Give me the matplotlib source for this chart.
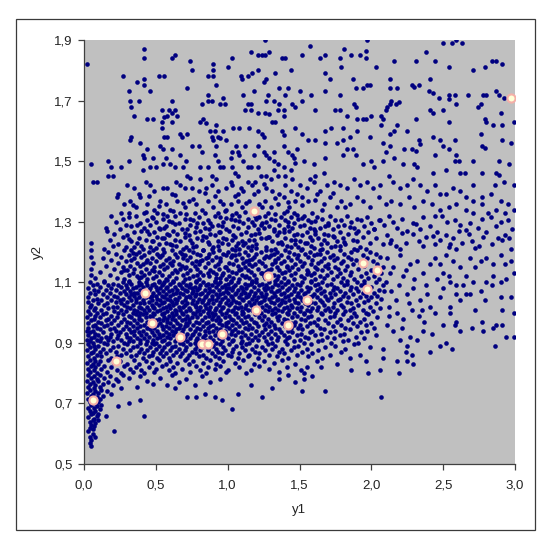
import matplotlib
matplotlib.use('Agg')
import matplotlib.pyplot as plt
from matplotlib.patches import Rectangle

plt.rcParams['font.family'] = ['Liberation Sans', 'DejaVu Sans']

# Sparse upper-left region (y1 < 1.5, y2 >= 1.33)
upper_left_points = [
    (0.02,1.82),(0.42,1.87),(0.42,1.84),(0.61,1.84),(0.63,1.85),(0.74,1.83),(0.75,1.80),(0.90,1.82),(0.90,1.80),
    (1.00,1.81),(1.03,1.84),(1.16,1.86),(1.21,1.85),(1.24,1.85),(1.26,1.85),(1.29,1.86),(1.26,1.90),(1.38,1.84),
    (1.40,1.84),(1.44,1.80),(0.27,1.78),(0.52,1.78),(0.56,1.78),(0.86,1.78),(0.90,1.78),(1.09,1.78),(1.14,1.78),
    (1.17,1.79),(1.21,1.80),(1.27,1.77),(1.25,1.76),(1.33,1.79),(0.37,1.76),(0.42,1.77),(0.42,1.75),(0.31,1.73),
    (0.46,1.73),(0.72,1.74),(0.92,1.75),(1.10,1.77),(1.18,1.73),(1.36,1.74),(1.40,1.72),(1.42,1.74),(0.86,1.72),
    (0.89,1.70),(0.86,1.70),(0.82,1.69),(0.97,1.71),(0.95,1.69),(0.98,1.69),(1.11,1.72),(1.14,1.69),(1.16,1.69),
    (1.28,1.72),(1.27,1.70),(1.32,1.70),(1.36,1.69),(1.45,1.69),(0.32,1.70),(0.38,1.70),(0.33,1.68),(0.61,1.70),
    (0.35,1.65),(0.54,1.67),(0.59,1.67),(0.58,1.65),(0.61,1.66),(0.63,1.67),(0.65,1.65),(0.56,1.645),(0.44,1.64),
    (0.48,1.64),(0.54,1.63),(0.61,1.63),(0.81,1.63),(0.83,1.64),(0.85,1.625),(0.92,1.62),(1.12,1.67),(1.16,1.67),
    (1.21,1.66),(1.26,1.66),(1.29,1.655),(1.35,1.67),(1.39,1.67),(1.47,1.68),(1.31,1.63),(1.33,1.63),(1.39,1.65),
    (1.04,1.61),(1.08,1.61),(1.15,1.61),(1.21,1.60),(1.24,1.59),(1.25,1.58),(1.38,1.60),(1.39,1.585),(1.47,1.61),
    (0.54,1.61),(0.67,1.59),(0.68,1.58),(0.72,1.59),(0.56,1.58),(0.58,1.58),(0.33,1.58),(0.32,1.57),(0.88,1.60),
    (0.91,1.60),(0.97,1.60),(0.89,1.58),(0.90,1.57),(0.93,1.58),(0.95,1.575),(0.99,1.57),(0.39,1.56),(0.44,1.54),
    (0.53,1.55),(0.55,1.54),(0.61,1.54),(0.75,1.55),(0.80,1.55),(0.82,1.53),(0.92,1.55),(1.06,1.55),(1.03,1.53),
    (1.07,1.53),(1.12,1.55),(1.21,1.55),(1.25,1.53),(1.32,1.53),(1.27,1.52),(1.39,1.55),(1.42,1.53),(1.45,1.52),
    (1.48,1.54),(0.41,1.52),(0.42,1.51),(0.48,1.51),(0.57,1.51),(0.60,1.49),(0.67,1.52),(0.71,1.50),(0.55,1.49),
    (0.50,1.48),(0.46,1.48),(0.31,1.50),(0.26,1.48),(0.17,1.50),(0.19,1.48),(0.05,1.49),(0.17,1.45),(0.20,1.45),
    (0.06,1.43),(0.09,1.43),(0.41,1.47),(0.63,1.48),(0.69,1.48),(0.72,1.45),(0.74,1.445),(0.81,1.48),(0.86,1.48),
    (0.91,1.52),(0.93,1.50),(0.95,1.48),(0.97,1.48),(1.02,1.51),(1.08,1.52),(1.11,1.50),(1.14,1.48),(1.16,1.48),
    (1.21,1.48),(1.18,1.52),(1.29,1.51),(1.32,1.50),(1.35,1.49),(1.39,1.48),(1.46,1.51),(1.47,1.495),(1.03,1.48),
    (1.05,1.46),(1.07,1.45),(0.89,1.45),(0.92,1.44),(0.81,1.44),(1.23,1.45),(1.27,1.45),(1.32,1.47),(1.35,1.45),
    (1.44,1.47),(1.45,1.44),(1.40,1.45),
    (0.30,1.42),(0.35,1.41),(0.38,1.39),(0.24,1.39),(0.46,1.42),(0.49,1.40),(0.55,1.41),(0.58,1.41),(0.61,1.39),
    (0.67,1.42),(0.70,1.41),(0.75,1.41),(0.80,1.40),(0.85,1.41),(0.89,1.42),(0.93,1.40),(0.99,1.41),(1.03,1.42),
    (1.07,1.39),(1.11,1.40),(1.17,1.42),(1.21,1.40),(1.27,1.41),(1.31,1.40),(1.36,1.39),(1.40,1.42),(1.44,1.40),
    (1.48,1.39),(0.43,1.43),(0.64,1.43),(1.14,1.43),(1.19,1.43),(1.30,1.44),(1.02,1.43),
    (0.23,1.38),(0.28,1.36),(0.32,1.37),(0.36,1.35),(0.39,1.38),(0.44,1.36),(0.49,1.34),(0.53,1.37),(0.57,1.36),
    (0.60,1.34),(0.65,1.37),(0.70,1.35),(0.73,1.37),(0.78,1.36),(0.82,1.34),(0.86,1.37),(0.90,1.35),(0.95,1.37),
    (0.99,1.34),(1.02,1.36),(1.07,1.37),(1.10,1.35),(1.15,1.37),(1.22,1.36),(1.26,1.37),(1.30,1.35),(1.35,1.36),
    (1.39,1.38),(1.43,1.35),(1.47,1.37),(0.26,1.33),(0.31,1.33),(0.42,1.33),(0.51,1.33),(0.67,1.33),(0.77,1.33),
    (0.93,1.33),(1.06,1.33),(1.28,1.33),(1.39,1.33),(1.46,1.33),
]

# Sparse upper-right region (y1 >= 1.5, y2 >= 1.33)
upper_right_points = [
    (1.57,1.88),(1.52,1.85),(1.64,1.84),(1.68,1.85),(1.68,1.79),(1.71,1.77),(1.78,1.84),(1.79,1.81),(1.81,1.87),
    (1.86,1.85),(1.92,1.85),(1.96,1.84),(1.96,1.865),(1.97,1.90),(2.03,1.81),(2.16,1.83),(2.31,1.83),(2.38,1.86),
    (2.44,1.83),(2.50,1.89),(2.56,1.89),(2.59,1.90),(2.63,1.89),(2.54,1.81),(2.71,1.80),(2.79,1.81),(2.84,1.83),
    (2.87,1.83),(2.91,1.82),(1.50,1.73),(1.58,1.72),(1.68,1.73),(1.78,1.72),(1.87,1.77),(1.89,1.74),(1.94,1.74),
    (1.97,1.75),(1.99,1.75),(2.13,1.77),(2.13,1.74),(2.18,1.74),(2.28,1.75),(2.33,1.75),(2.30,1.745),(2.41,1.77),
    (2.40,1.73),(2.43,1.725),(2.54,1.72),(2.58,1.72),(2.47,1.71),(2.54,1.705),(2.67,1.72),(2.78,1.72),(2.80,1.72),
    (2.87,1.73),(2.89,1.72),(2.92,1.71),(1.52,1.70),(1.61,1.67),(1.75,1.67),(1.78,1.67),(1.88,1.69),(1.89,1.68),
    (1.90,1.64),(1.94,1.64),(1.96,1.64),(1.83,1.65),(2.00,1.65),(2.07,1.65),(2.08,1.64),(2.10,1.67),(2.13,1.69),
    (2.17,1.69),(2.19,1.695),(2.14,1.70),(2.11,1.68),(2.31,1.64),(2.41,1.67),(2.43,1.66),(2.50,1.67),(2.54,1.63),
    (2.59,1.69),(2.76,1.69),(2.74,1.68),(2.79,1.64),(2.80,1.63),(2.91,1.62),(2.99,1.63),(2.90,1.66),
    (1.52,1.59),(1.56,1.57),(1.61,1.57),(1.68,1.60),(1.72,1.61),(1.80,1.61),(1.68,1.56),(1.76,1.56),(1.80,1.57),
    (1.85,1.58),(1.90,1.60),(1.83,1.54),(1.87,1.54),(1.99,1.58),(2.07,1.62),(2.13,1.59),(2.16,1.60),(2.08,1.56),
    (2.13,1.55),(2.18,1.62),(2.25,1.60),(2.33,1.57),(2.34,1.555),(2.23,1.54),(2.28,1.54),(2.31,1.535),(2.43,1.58),
    (2.48,1.57),(2.50,1.55),(2.54,1.54),(2.58,1.57),(2.44,1.52),(2.59,1.52),(2.58,1.50),(2.61,1.50),(2.71,1.50),
    (2.77,1.55),(2.76,1.59),(2.79,1.545),(2.91,1.57),(2.97,1.56),(2.85,1.62),(2.89,1.50),(2.96,1.49),
    (1.53,1.50),(1.60,1.49),(1.68,1.51),(1.80,1.52),(1.89,1.52),(1.94,1.49),(2.00,1.50),(2.02,1.48),(2.08,1.50),
    (2.10,1.53),(2.16,1.51),(2.22,1.49),(2.30,1.49),(2.32,1.48),(2.43,1.46),(2.52,1.47),(2.62,1.46),(2.65,1.46),
    (2.77,1.46),(2.87,1.46),(2.89,1.455),(2.71,1.42),(2.86,1.42),(2.92,1.43),(2.99,1.42),
    (1.57,1.44),(1.61,1.45),(1.67,1.46),(1.50,1.42),(1.55,1.41),(1.60,1.43),(1.64,1.40),(1.69,1.42),(1.74,1.43),
    (1.78,1.42),(1.83,1.41),(1.88,1.44),(1.92,1.42),(1.97,1.43),(2.01,1.41),(2.06,1.42),(2.12,1.45),(2.15,1.43),
    (2.20,1.41),(2.25,1.42),(2.29,1.44),(2.34,1.42),(2.39,1.40),(2.44,1.42),(2.48,1.39),(2.52,1.39),(2.57,1.41),
    (2.62,1.40),(2.66,1.38),(2.71,1.37),(2.77,1.38),(2.83,1.39),(2.90,1.37),(2.95,1.36),(2.99,1.34),
    (1.52,1.38),(1.56,1.37),(1.62,1.39),(1.67,1.36),(1.71,1.38),(1.76,1.35),(1.79,1.37),(1.85,1.36),(1.90,1.38),
    (1.94,1.37),(1.99,1.35),(2.05,1.38),(2.10,1.36),(2.14,1.37),(2.20,1.36),(2.26,1.38),(2.30,1.35),(2.36,1.37),
    (2.42,1.36),(2.48,1.34),(2.54,1.35),(2.59,1.36),(2.66,1.34),(2.71,1.33),(2.77,1.36),(2.81,1.33),(2.87,1.34),
    (2.93,1.33),
]

# Middle band (y2 about 1.1 - 1.43), extra points between the rows
middle_band_points = [
    (0.43,1.331),(0.55,1.327),(0.62,1.334),(0.71,1.324),(0.84,1.329),(0.98,1.336),(1.03,1.322),(1.12,1.331),
    (1.19,1.318),(1.33,1.327),(1.41,1.336),(1.48,1.321),(1.59,1.329),(1.66,1.338),
    (0.48,1.312),(0.59,1.302),(0.74,1.308),(0.88,1.297),(0.99,1.313),(1.08,1.304),(1.20,1.309),(1.27,1.298),
    (1.40,1.306),(1.52,1.311),(1.61,1.301),(1.79,1.307),
    (0.37,1.288),(0.52,1.279),(0.63,1.291),(0.78,1.283),(0.87,1.276),(0.96,1.287),(1.14,1.281),(1.23,1.290),
    (1.32,1.277),(1.42,1.286),(1.57,1.279),(1.70,1.288),(1.85,1.282),
    (0.44,1.268),(0.58,1.259),(0.70,1.263),(0.83,1.252),(0.95,1.266),(1.04,1.257),(1.22,1.262),(1.29,1.251),
    (1.39,1.266),(1.46,1.255),(1.61,1.261),(1.73,1.253),(1.89,1.264),
    (0.31,1.242),(0.47,1.236),(0.56,1.247),(0.74,1.239),(0.86,1.233),(0.99,1.244),(1.07,1.231),(1.18,1.238),
    (1.27,1.245),(1.37,1.232),(1.47,1.241),(1.55,1.229),(1.67,1.238),(1.81,1.232),
    (0.35,1.218),(0.50,1.212),(0.61,1.223),(0.76,1.216),(0.83,1.208),(0.93,1.219),(1.03,1.211),(1.11,1.222),
    (1.20,1.214),(1.30,1.207),(1.44,1.218),(1.60,1.213),(1.75,1.221),(1.88,1.209),
    (2.02,1.276),(2.21,1.262),(2.31,1.291),(2.43,1.253),(2.66,1.271),(2.88,1.246),(2.13,1.231),(2.36,1.219),
    (2.55,1.228),(2.72,1.214),(2.06,1.305),(2.44,1.318),
    (0.52,1.352),(0.63,1.388),(0.76,1.374),(0.84,1.396),(0.97,1.358),(1.05,1.384),(1.13,1.362),(1.18,1.392),
    (1.24,1.348),(1.33,1.378),(1.42,1.364),(0.69,1.362),(0.91,1.384),(1.09,1.412),(1.25,1.426),(1.52,1.355),
    (1.61,1.372),(1.73,1.396),(1.82,1.347),(0.45,1.385),(0.34,1.356),
    (0.34,1.197),(0.52,1.188),(0.68,1.193),(0.86,1.182),(1.05,1.191),(1.17,1.178),(1.27,1.186),(0.43,1.168),
    (0.61,1.158),(0.81,1.171),(0.99,1.152),(1.15,1.162),(1.33,1.168),(0.28,1.142),(0.49,1.137),(0.70,1.146),
    (0.92,1.128),(1.08,1.141),(1.24,1.132),(1.41,1.149),(0.40,1.118),(0.58,1.108),(0.79,1.123),(0.95,1.113),
    (1.12,1.118),(1.34,1.112),(1.55,1.127),(1.70,1.148),(1.86,1.176),(1.64,1.193),
]

# Moderate lower-right region (y1 > 2.05, y2 < 1.2)
lower_right_points = [
    (2.11,1.18),(2.15,1.15),(2.20,1.19),(2.22,1.12),(2.27,1.16),(2.32,1.17),(2.36,1.13),(2.41,1.16),(2.10,1.10),
    (2.14,1.07),(2.19,1.09),(2.25,1.06),(2.29,1.08),(2.34,1.04),(2.39,1.06),(2.12,1.02),(2.18,1.00),(2.22,0.98),
    (2.28,1.01),(2.33,0.99),(2.37,0.97),(2.11,0.96),(2.15,0.94),(2.20,0.91),(2.27,0.92),(2.32,0.91),(2.25,0.89),
    (2.36,0.94),(2.42,0.93),(2.08,0.88),(2.18,0.84),(2.25,0.84),(2.29,0.83),(2.24,0.87),(2.28,0.86),(2.19,0.80),
    (2.07,0.72),(2.08,0.85),(2.06,0.81),(1.98,0.80),(1.96,0.84),(2.13,1.13),(2.24,1.14),(2.30,1.11),(2.17,1.04),
    (2.38,1.09),(2.26,1.03),(2.12,0.99),(2.21,0.95),(2.35,1.01),
    (2.44,1.18),(2.48,1.16),(2.52,1.19),(2.57,1.17),(2.62,1.15),(2.69,1.18),(2.72,1.15),(2.76,1.17),(2.80,1.18),
    (2.85,1.16),(2.90,1.19),(2.93,1.16),(2.97,1.17),(2.99,1.13),(2.85,1.12),(2.90,1.10),(2.80,1.10),(2.76,1.07),
    (2.69,1.06),(2.64,1.09),(2.59,1.06),(2.55,1.10),(2.50,1.08),(2.46,1.11),(2.48,1.05),(2.55,1.02),(2.62,1.04),
    (2.66,1.06),(2.72,1.01),(2.79,1.04),(2.90,1.05),(2.91,1.01),(2.97,1.05),(2.99,1.00),(2.77,0.97),(2.78,0.94),
    (2.70,0.95),(2.62,0.94),(2.59,0.97),(2.50,0.96),(2.52,0.90),(2.56,0.88),(2.48,0.89),(2.41,0.87),(2.86,0.89),
    (2.94,0.92),(2.99,0.92),(2.91,0.96),(2.87,0.96),(2.59,1.09),(2.50,1.13),(2.54,1.12),(2.66,1.12),(2.71,1.10),
    (2.84,1.09),(2.94,1.11),(2.41,1.02),(2.44,1.00),(2.55,1.00),(2.58,0.96),(2.85,0.95),
]

# Dense cloud: y2 level and the y1 values of the points read at that level
dense_rows = [
    (1.320, [0.19,0.36,0.58,0.63,0.91,1.08,1.26,1.53,1.71,1.83,2.12,2.49]),
    (1.315, [0.31,0.47,0.80,0.95,1.22,1.37,1.44,1.62,1.97,2.36,2.83]),
    (1.310, [0.27,0.55,0.70,1.02,1.14,1.30,1.49,1.66,1.90,2.21,2.77]),
    (1.305, [0.44,0.76,0.86,1.05,1.33,1.56,1.75,1.93,2.05,2.58,2.95]),
    (1.300, [0.22,0.50,0.61,0.97,1.17,1.42,1.58,1.86,2.15,2.53,2.90]),
    (1.295, [0.39,0.66,0.79,0.83,1.11,1.24,1.46,1.70,2.00,2.29,2.69]),
    (1.290, [0.29,0.46,0.74,0.93,1.18,1.36,1.53,1.81,2.09,2.62]),
    (1.285, [0.33,0.57,0.89,1.04,1.29,1.50,1.68,1.77,1.95,2.41,2.87]),
    (1.280, [0.15,0.42,0.56,0.84,1.07,1.25,1.45,1.64,1.88,2.18,2.74]),
    (1.275, [0.25,0.53,0.68,0.72,0.99,1.21,1.39,1.60,1.73,2.02,2.34,2.98]),
    (1.270, [0.16,0.40,0.62,0.81,1.01,1.32,1.43,1.61,1.91,2.25,2.61]),
    (1.265, [0.35,0.49,0.77,0.94,1.13,1.36,1.55,1.78,1.98,2.46,2.80]),
    (1.260, [0.21,0.45,0.65,0.88,1.09,1.19,1.48,1.67,1.84,2.29,2.68]),
    (1.255, [0.30,0.59,0.73,0.91,1.16,1.34,1.52,1.70,2.11,2.52,2.93]),
    (1.250, [0.27,0.51,0.70,0.85,1.05,1.28,1.57,1.74,1.94,2.38,2.78]),
    (1.245, [0.38,0.54,0.79,0.97,1.23,1.40,1.63,1.80,2.03,2.57,2.96]),
    (1.240, [0.18,0.43,0.63,0.82,1.03,1.15,1.44,1.59,1.87,2.14,2.48,2.91]),
    (1.235, [0.33,0.48,0.67,0.93,1.10,1.31,1.50,1.76,1.90,2.33,2.70]),
    (1.230, [0.05,0.37,0.57,0.75,0.96,1.12,1.35,1.54,1.69,1.99,2.24,2.63]),
    (1.225, [0.24,0.52,0.60,0.87,1.00,1.20,1.38,1.47,1.65,1.82,2.08,2.44,2.84]),
    (1.220, [0.20,0.40,0.64,0.78,1.06,1.17,1.41,1.58,1.78,2.17,2.75]),
    (1.215, [0.29,0.46,0.71,0.90,1.14,1.27,1.49,1.72,1.92,2.54]),
    (1.210, [0.14,0.41,0.55,0.69,0.89,1.08,1.33,1.52,1.66,1.96,2.20,2.59,2.97]),
    (1.205, [0.05,0.28,0.33,0.48,0.61,0.73,0.83,0.94,1.05,1.16,1.27,1.40,1.51,1.64,1.78,1.90]),
    (1.200, [0.17,0.38,0.45,0.56,0.67,0.76,0.90,1.00,1.12,1.23,1.34,1.43,1.57,1.69,1.86,1.99]),
    (1.195, [0.22,0.36,0.51,0.63,0.79,0.87,0.97,1.08,1.20,1.32,1.46,1.54,1.62,1.81,2.03]),
    (1.190, [0.31,0.42,0.54,0.70,0.81,0.99,1.03,1.14,1.30,1.37,1.49,1.60,1.73,1.94]),
    (1.185, [0.05,0.26,0.40,0.53,0.65,0.74,0.92,1.02,1.18,1.29,1.42,1.56,1.71,1.84,2.06]),
    (1.180, [0.13,0.35,0.47,0.59,0.69,0.85,0.95,1.10,1.25,1.35,1.48,1.67,1.76,1.97]),
    (1.175, [0.19,0.33,0.44,0.57,0.72,0.82,0.89,1.06,1.15,1.33,1.44,1.59,1.74,1.89]),
    (1.170, [0.29,0.50,0.62,0.78,0.95,1.13,1.22,1.39,1.50,1.65,1.80,2.01]),
    (1.165, [0.06,0.24,0.37,0.46,0.60,0.75,0.86,1.01,1.11,1.24,1.37,1.53,1.63,1.79,1.92]),
    (1.160, [0.41,0.55,0.66,0.80,0.93,1.04,1.19,1.31,1.47,1.58,1.70,1.87,2.04]),
    (1.155, [0.15,0.32,0.39,0.53,0.68,0.77,0.91,1.07,1.17,1.26,1.41,1.52,1.68,1.83,1.95]),
    (1.150, [0.27,0.49,0.58,0.71,0.84,0.98,1.12,1.34,1.45,1.61,1.75,2.08]),
    (1.145, [0.05,0.21,0.35,0.43,0.56,0.67,0.79,0.94,1.09,1.21,1.30,1.49,1.62,1.77,1.91]),
    (1.140, [0.30,0.47,0.63,0.74,0.88,1.00,1.14,1.28,1.36,1.43,1.55,1.66,1.82,2.00]),
    (1.135, [0.11,0.26,0.40,0.52,0.65,0.81,0.90,1.03,1.16,1.27,1.40,1.56,1.72,1.86]),
    (1.130, [0.34,0.45,0.61,0.72,0.86,0.97,1.06,1.23,1.38,1.47,1.60,1.78,1.96,2.07]),
    (1.125, [0.05,0.18,0.31,0.42,0.54,0.69,0.83,0.96,1.10,1.18,1.32,1.44,1.58,1.69,1.85]),
    (1.120, [0.37,0.50,0.59,0.76,0.87,1.01,1.13,1.25,1.35,1.51,1.64,1.76,1.93,2.02]),
    (1.115, [0.08,0.23,0.38,0.48,0.64,0.73,0.92,1.04,1.15,1.26,1.39,1.53,1.67,1.80,1.98]),
    (1.110, [0.28,0.44,0.57,0.70,0.80,0.99,1.08,1.20,1.29,1.46,1.61,1.73,1.88,2.05]),
    (1.105, [0.14,0.31,0.52,0.62,0.78,0.91,1.02,1.17,1.33,1.42,1.58,1.83,1.95]),
    (1.100, [0.04,0.14,0.27,0.31,0.38,0.43,0.52,0.56,0.62,0.69,0.78,0.83,0.91,0.95,1.02,1.07,1.17,1.20,1.29,1.37,1.42,1.52,1.58,1.66,1.79,1.90,2.03]),
    (1.095, [0.09,0.20,0.33,0.40,0.49,0.55,0.60,0.66,0.74,0.86,0.93,1.00,1.12,1.16,1.24,1.33,1.40,1.48,1.63,1.72,1.83,1.95]),
    (1.090, [0.06,0.17,0.24,0.29,0.38,0.44,0.47,0.54,0.67,0.71,0.81,0.85,0.89,0.98,1.05,1.14,1.22,1.27,1.35,1.45,1.50,1.61,1.69,1.81,1.93,2.08]),
    (1.085, [0.11,0.26,0.36,0.41,0.50,0.58,0.63,0.73,0.77,0.92,0.96,1.04,1.09,1.18,1.31,1.38,1.55,1.74,1.86,2.00]),
    (1.080, [0.03,0.19,0.30,0.34,0.46,0.53,0.57,0.68,0.75,0.80,0.87,0.99,1.01,1.10,1.13,1.25,1.28,1.43,1.47,1.57,1.64,1.76,1.89,1.97]),
    (1.075, [0.07,0.15,0.22,0.39,0.45,0.51,0.61,0.65,0.70,0.79,0.84,0.94,1.03,1.07,1.21,1.26,1.36,1.41,1.51,1.62,1.73,1.85,2.05]),
    (1.070, [0.10,0.28,0.32,0.42,0.55,0.59,0.72,0.76,0.88,0.90,0.99,1.11,1.16,1.30,1.34,1.46,1.56,1.67,1.78,1.91,2.09]),
    (1.065, [0.04,0.18,0.25,0.35,0.37,0.48,0.52,0.64,0.67,0.75,0.82,0.86,0.97,1.00,1.06,1.12,1.19,1.23,1.32,1.39,1.49,1.54,1.65,1.71,1.82,1.94,2.02]),
    (1.060, [0.08,0.13,0.29,0.33,0.40,0.44,0.57,0.62,0.69,0.78,0.81,0.92,0.95,1.05,1.09,1.15,1.27,1.37,1.44,1.53,1.60,1.75,1.87]),
    (1.055, [0.21,0.35,0.47,0.50,0.54,0.60,0.73,0.77,0.85,0.89,1.02,1.14,1.18,1.24,1.33,1.42,1.48,1.59,1.68,1.80,1.96,2.04]),
    (1.050, [0.03,0.16,0.23,0.31,0.38,0.43,0.46,0.56,0.66,0.71,0.74,0.84,0.93,0.98,1.03,1.08,1.13,1.21,1.26,1.31,1.40,1.50,1.57,1.62,1.72,1.84,1.92,2.00]),
    (1.045, [0.09,0.27,0.36,0.51,0.58,0.63,0.80,0.89,0.96,1.10,1.17,1.29,1.35,1.46,1.56,1.69,1.78,2.07]),
    (1.040, [0.06,0.12,0.19,0.25,0.33,0.41,0.47,0.53,0.60,0.65,0.70,0.76,0.83,0.87,0.92,1.00,1.04,1.11,1.20,1.25,1.34,1.38,1.43,1.52,1.64,1.70,1.77,1.89,1.98]),
    (1.035, [0.03,0.22,0.30,0.36,0.45,0.56,0.61,0.68,0.79,0.82,0.95,1.06,1.15,1.23,1.30,1.40,1.47,1.58,1.66,1.83,1.95]),
    (1.030, [0.10,0.16,0.26,0.39,0.42,0.50,0.54,0.64,0.72,0.75,0.86,0.90,0.99,1.02,1.08,1.18,1.22,1.32,1.37,1.49,1.54,1.61,1.74,1.86,2.03]),
    (1.025, [0.05,0.14,0.28,0.34,0.47,0.52,0.59,0.62,0.70,0.77,0.84,0.94,1.01,1.13,1.16,1.27,1.36,1.44,1.56,1.67,1.79,1.91]),
    (1.020, [0.04,0.20,0.23,0.30,0.38,0.44,0.48,0.57,0.66,0.69,0.78,0.81,0.88,0.97,1.05,1.09,1.19,1.24,1.29,1.41,1.45,1.51,1.63,1.73,1.80,1.99]),
    (1.015, [0.08,0.17,0.32,0.40,0.49,0.55,0.60,0.73,0.85,0.92,0.96,1.07,1.12,1.21,1.33,1.39,1.48,1.59,1.70,1.87,2.06]),
    (1.010, [0.07,0.12,0.26,0.35,0.42,0.45,0.53,0.63,0.67,0.74,0.80,0.87,0.91,1.00,1.04,1.14,1.17,1.26,1.31,1.35,1.43,1.55,1.62,1.68,1.76,1.85,1.94]),
    (1.005, [0.03,0.21,0.29,0.37,0.51,0.58,0.64,0.71,0.79,0.83,0.95,1.03,1.10,1.22,1.28,1.38,1.50,1.57,1.71,1.82,2.01]),
    (1.000, [0.09,0.15,0.24,0.34,0.39,0.43,0.48,0.56,0.61,0.68,0.76,0.86,0.89,0.99,1.06,1.11,1.19,1.23,1.33,1.41,1.46,1.53,1.65,1.75,1.88,1.96]),
    (0.995, [0.04,0.13,0.27,0.36,0.41,0.49,0.54,0.64,0.69,0.77,0.81,0.91,0.96,1.05,1.10,1.19,1.31,1.42,1.53,1.66,1.80,1.98]),
    (0.990, [0.08,0.19,0.31,0.38,0.46,0.59,0.62,0.72,0.87,0.90,1.01,1.14,1.25,1.36,1.48,1.58,1.74,1.89]),
    (0.985, [0.02,0.11,0.23,0.33,0.43,0.47,0.56,0.66,0.75,0.79,0.84,0.93,0.98,1.07,1.12,1.22,1.34,1.45,1.56,1.71,1.86,2.04]),
    (0.980, [0.07,0.17,0.28,0.38,0.52,0.58,0.61,0.70,0.73,0.89,1.02,1.16,1.28,1.39,1.51,1.63,1.78,1.95]),
    (0.975, [0.05,0.15,0.21,0.35,0.40,0.50,0.55,0.63,0.68,0.82,0.92,0.95,1.04,1.09,1.24,1.35,1.41,1.54,1.68,1.84]),
    (0.970, [0.10,0.26,0.30,0.44,0.48,0.58,0.73,0.78,0.86,1.00,1.13,1.18,1.30,1.47,1.60,1.76,1.92]),
    (0.965, [0.03,0.12,0.19,0.32,0.37,0.45,0.53,0.60,0.65,0.71,0.80,0.85,0.94,0.99,1.06,1.11,1.20,1.27,1.38,1.44,1.57,1.70,1.87,2.00]),
    (0.960, [0.08,0.16,0.24,0.42,0.46,0.51,0.67,0.72,0.76,0.90,0.96,1.03,1.15,1.25,1.32,1.46,1.50,1.62,1.79,1.96]),
    (0.955, [0.06,0.14,0.29,0.34,0.39,0.54,0.57,0.62,0.70,0.83,0.88,0.99,1.08,1.21,1.29,1.40,1.55,1.73,1.90]),
    (0.950, [0.03,0.09,0.21,0.37,0.44,0.49,0.59,0.66,0.79,0.86,0.92,1.01,1.12,1.17,1.33,1.44,1.49,1.64,1.82,2.02]),
    (0.945, [0.11,0.18,0.27,0.31,0.46,0.55,0.64,0.69,0.74,0.81,0.95,1.05,1.14,1.26,1.36,1.52,1.67,1.85]),
    (0.940, [0.02,0.06,0.22,0.35,0.41,0.51,0.61,0.77,0.84,0.90,0.98,1.03,1.20,1.30,1.42,1.59,1.75,1.97]),
    (0.935, [0.04,0.13,0.25,0.33,0.38,0.47,0.57,0.63,0.68,0.87,0.93,1.07,1.10,1.24,1.37,1.45,1.57,1.71,1.93]),
    (0.930, [0.08,0.19,0.29,0.43,0.52,0.59,0.72,0.76,0.80,0.99,1.02,1.16,1.28,1.33,1.51,1.65,1.81]),
    (0.925, [0.03,0.10,0.24,0.35,0.40,0.49,0.55,0.62,0.66,0.75,0.84,0.91,1.05,1.12,1.22,1.39,1.48,1.61,1.78,2.03]),
    (0.920, [0.07,0.15,0.18,0.30,0.45,0.53,0.58,0.70,0.83,0.88,0.97,1.09,1.19,1.25,1.35,1.43,1.54,1.69,1.89]),
    (0.915, [0.05,0.12,0.23,0.32,0.37,0.42,0.51,0.60,0.65,0.74,0.79,0.94,1.00,1.14,1.30,1.41,1.56,1.74,1.95]),
    (0.910, [0.02,0.09,0.17,0.26,0.39,0.48,0.56,0.69,0.78,0.85,0.90,1.04,1.17,1.21,1.34,1.50,1.66,1.84]),
    (0.905, [0.04,0.11,0.20,0.31,0.34,0.44,0.54,0.63,0.72,0.81,0.96,1.03,1.10,1.27,1.40,1.46,1.63,1.80]),
    (0.900, [0.06,0.14,0.28,0.39,0.47,0.50,0.59,0.67,0.77,0.86,0.92,1.09,1.15,1.31,1.53,1.72,1.91]),
    (0.895, [0.03,0.16,0.30,0.43,0.49,0.58,0.69,0.74,0.84,0.95,1.01,1.13,1.28,1.41,1.58,1.88]),
    (0.890, [0.07,0.10,0.24,0.37,0.52,0.63,0.79,0.90,1.06,1.20,1.33,1.49,1.75]),
    (0.885, [0.04,0.20,0.34,0.46,0.56,0.61,0.71,0.82,0.87,0.97,1.10,1.24,1.46,1.68,1.99]),
    (0.880, [0.08,0.13,0.27,0.40,0.50,0.66,0.77,0.92,1.04,1.17,1.31,1.38,1.55,1.82]),
    (0.875, [0.02,0.18,0.32,0.44,0.54,0.60,0.70,0.81,0.86,0.98,1.12,1.26,1.44,1.63]),
    (0.870, [0.06,0.11,0.22,0.38,0.48,0.64,0.75,0.93,1.03,1.19,1.36,1.52,1.79]),
    (0.865, [0.05,0.15,0.29,0.42,0.53,0.57,0.68,0.78,0.89,0.96,1.08,1.22,1.39,1.59]),
    (0.860, [0.09,0.26,0.36,0.47,0.62,0.73,0.83,1.00,1.15,1.29,1.48,1.71,1.92]),
    (0.855, [0.03,0.12,0.23,0.33,0.45,0.55,0.67,0.80,0.91,1.02,1.14,1.34,1.56]),
    (0.850, [0.07,0.19,0.41,0.51,0.59,0.72,0.85,0.94,1.07,1.21,1.42,1.66,1.85]),
    (0.845, [0.04,0.17,0.35,0.52,0.70,0.88,1.11,1.38]),
    (0.840, [0.08,0.11,0.25,0.43,0.60,0.76,0.97,1.25,1.62]),
    (0.835, [0.02,0.21,0.47,0.65,0.83,1.05,1.32]),
    (0.830, [0.06,0.10,0.30,0.38,0.57,0.73,0.92,1.18,1.47,1.76]),
    (0.825, [0.05,0.14,0.28,0.54,0.78,0.95,1.22]),
    (0.820, [0.08,0.19,0.36,0.45,0.62,0.86,1.08,1.41,1.55,1.65]),
    (0.815, [0.03,0.12,0.32,0.50,0.68,0.91,1.29]),
    (0.810, [0.07,0.23,0.40,0.59,0.81,1.00,1.16,1.51,1.86]),
    (0.805, [0.04,0.16,0.34,0.49,0.74,0.99,1.36]),
    (0.800, [0.09,0.26,0.42,0.63,0.85,1.13,1.53]),
    (0.795, [0.03,0.11,0.27,0.61,1.42]),
    (0.790, [0.07,0.18,0.39,0.82,1.59]),
    (0.785, [0.05,0.14,0.31,0.53]),
    (0.780, [0.09,0.22,0.71,0.95,1.36,1.53]),
    (0.775, [0.02,0.10,0.24,0.44]),
    (0.770, [0.06,0.17,0.66,0.88,1.47]),
    (0.765, [0.04,0.13,0.48]),
    (0.760, [0.08,0.20,0.58,0.77,1.16]),
    (0.755, [0.03,0.11,0.37]),
    (0.750, [0.07,0.26,0.63,1.31]),
    (0.745, [0.04,0.12]),
    (0.740, [0.08,0.16,1.52,1.68]),
    (0.735, [0.02,0.10]),
    (0.730, [0.06,0.19,0.84,1.07]),
    (0.725, [0.05,0.13]),
    (0.720, [0.09,0.72,0.78,0.91,1.24]),
    (0.715, [0.03,0.11]),
    (0.710, [0.07,0.39,0.96]),
    (0.705, [0.04,0.10]),
    (0.700, [0.08,0.31]),
    (0.695, [0.05,0.12]),
    (0.690, [0.09,0.24]),
    (0.685, [0.03,0.07]),
    (0.680, [0.11,1.03]),
    (0.675, [0.04,0.08]),
    (0.670, [0.06]),
    (0.665, [0.05,0.10]),
    (0.660, [0.09,0.15,0.42]),
    (0.655, [0.03]),
    (0.650, [0.07]),
    (0.645, [0.06,0.10]),
    (0.640, [0.04]),
    (0.635, [0.08]),
    (0.630, [0.05]),
    (0.625, [0.07]),
    (0.620, [0.04]),
    (0.615, [0.06]),
    (0.610, [0.03,0.21]),
    (0.600, [0.06]),
    (0.590, [0.04,0.08]),
    (0.580, [0.05]),
    (0.570, [0.04]),
    (0.560, [0.05]),
]

# Highlighted points
highlight_x = [0.06, 0.22, 0.425, 0.47, 0.67, 0.82, 0.865, 0.96, 1.185, 1.20, 1.28, 1.42, 1.55, 1.945, 1.97, 2.04, 2.97]
highlight_y = [0.71, 0.84, 1.066, 0.966, 0.92, 0.895, 0.897, 0.93, 1.337, 1.01, 1.12, 0.96, 1.04, 1.164, 1.077, 1.14, 1.71]

x_ticks = [0.0, 0.5, 1.0, 1.5, 2.0, 2.5, 3.0]
x_tick_labels = ['0,0', '0,5', '1,0', '1,5', '2,0', '2,5', '3,0']
y_ticks = [0.5, 0.7, 0.9, 1.1, 1.3, 1.5, 1.7, 1.9]
y_tick_labels = ['0,5', '0,7', '0,9', '1,1', '1,3', '1,5', '1,7', '1,9']

pts = upper_left_points + upper_right_points + middle_band_points + lower_right_points
xs = [p[0] for p in pts]
ys = [p[1] for p in pts]
for yv, row in dense_rows:
    xs.extend(row)
    ys.extend([yv] * len(row))

W, H = 550, 546
fig = plt.figure(figsize=(W / 100, H / 100), dpi=100)
fig.patch.set_facecolor('white')
fig.add_artist(Rectangle((16 / W, 1 - 530 / H), 519 / W, 511 / H, transform=fig.transFigure,
                         fill=False, edgecolor='#3a3a3a', linewidth=0.9))

ax = fig.add_axes([84 / W, 1 - 464 / H, 431 / W, 424 / H])
ax.set_facecolor('#C0C0C0')
ax.scatter(xs, ys, s=11, c='#000080', linewidths=0, zorder=2)
ax.scatter(highlight_x, highlight_y, s=34, facecolors='#FFFFD6', edgecolors='#F5AFA8',
           linewidths=1.5, zorder=3)

ax.set_xlim(0, 3.0)
ax.set_ylim(0.5, 1.9)
ax.set_xticks(x_ticks)
ax.set_xticklabels(x_tick_labels)
ax.set_yticks(y_ticks)
ax.set_yticklabels(y_tick_labels)

for side in ['top', 'right']:
    ax.spines[side].set_visible(False)
for side in ['left', 'bottom']:
    ax.spines[side].set_color('#404040')
    ax.spines[side].set_linewidth(0.9)

ax.tick_params(axis='both', direction='out', length=4, width=0.9, color='#404040',
               labelsize=9.5, labelcolor='#222222')
ax.tick_params(axis='x', pad=7)
ax.tick_params(axis='y', pad=4)

ax.set_xlabel('y1', fontsize=9.5, color='#222222')
ax.set_ylabel('y2', fontsize=9.5, color='#222222')
ax.xaxis.set_label_coords((299 - 84) / 431, -(510 - 464) / 424)
ax.xaxis.label.set_va('center')
ax.yaxis.set_label_coords(-(84 - 38) / 431, (464 - 252) / 424)
ax.yaxis.label.set_va('center')

fig.savefig('out.png', dpi=100)
